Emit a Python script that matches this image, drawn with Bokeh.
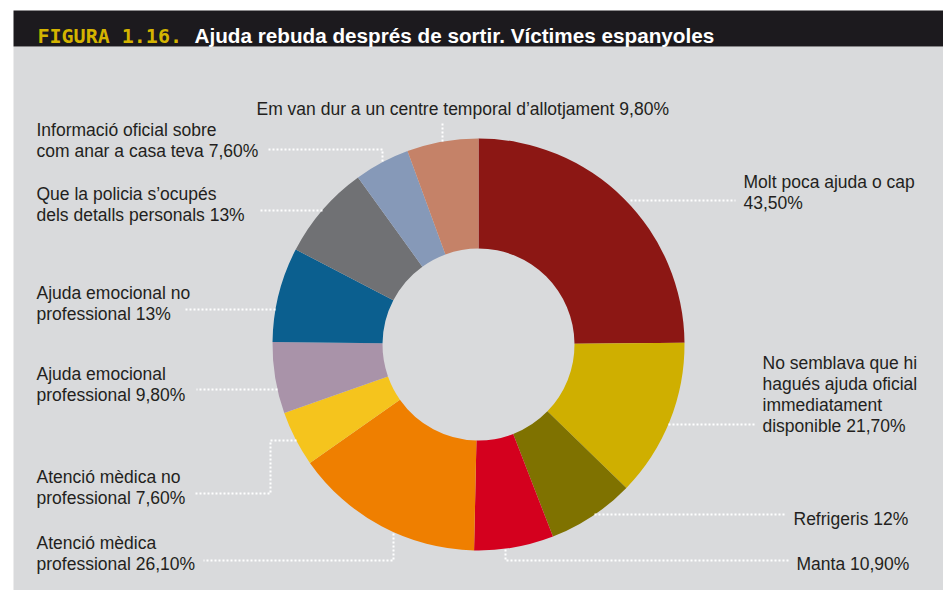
from bokeh.plotting import figure
from bokeh.models import ColumnDataSource, Range1d
from bokeh.core.properties import value
from bokeh.embed import file_html
from bokeh.resources import INLINE
import math

# ---- data ----
categories = [
    "Molt poca ajuda o cap",
    "No semblava que hi hagués ajuda oficial immediatament disponible",
    "Refrigeris",
    "Manta",
    "Atenció mèdica professional",
    "Atenció mèdica no professional",
    "Ajuda emocional professional",
    "Ajuda emocional no professional",
    "Que la policia s’ocupés dels detalls personals",
    "Informació oficial sobre com anar a casa teva",
    "Em van dur a un centre temporal d’allotjament",
]
values = [43.5, 21.7, 12.0, 10.9, 26.1, 7.6, 9.8, 13.0, 13.0, 7.6, 9.8]
label_texts = [
    "Molt poca ajuda o cap\n43,50%",
    "No semblava que hi\nhagués ajuda oficial\nimmediatament\ndisponible 21,70%",
    "Refrigeris 12%",
    "Manta 10,90%",
    "Atenció mèdica\nprofessional 26,10%",
    "Atenció mèdica no\nprofessional 7,60%",
    "Ajuda emocional\nprofessional 9,80%",
    "Ajuda emocional no\nprofessional 13%",
    "Que la policia s’ocupés\ndels detalls personals 13%",
    "Informació oficial sobre\ncom anar a casa teva 7,60%",
    "Em van dur a un centre temporal d’allotjament 9,80%",
]
colors = ["#8C1714", "#CFAF00", "#7F7200", "#D4001E", "#EF7F00", "#F5C41D",
          "#A993A9", "#0B5F8F", "#707174", "#8699B8", "#C58268"]
title_num = "FIGURA 1.16."
title_text = "Ajuda rebuda després de sortir. Víctimes espanyoles"

# ---- layout (reference pixel coordinates) ----
W, H = 943, 590
def fx(x): return x
def fy(y): return H - y

CX, CY = 478, 344
R_OUT, R_IN = 206, 96

# label anchor: (x, first baseline)
label_pos = [
    (743, 181), (762, 362), (793, 518), (796, 563), (36, 542), (36, 476),
    (36, 373), (36, 292), (36, 193), (36, 129), (256, 108),
]
LINE_H = 21
leaders = [
    [(630, 200), (735, 200)],
    [(668, 424), (754, 424)],
    [(594, 514), (785, 514)],
    [(505, 549), (505, 560), (788, 560)],
    [(393, 533), (393, 560), (203, 560)],
    [(296, 440), (270, 440), (270, 493), (195, 493)],
    [(277, 389), (196, 389)],
    [(275, 309), (183, 309)],
    [(322, 210), (258, 210)],
    [(382, 161), (382, 149), (268, 149)],
    [(442, 141), (442, 123)],
]

p = figure(width=W, height=H, x_range=Range1d(0, W), y_range=Range1d(0, H),
           output_backend="svg", toolbar_location=None, min_border=0)
p.axis.visible = False
p.grid.visible = False
p.outline_line_color = None
p.background_fill_color = "white"
p.border_fill_color = "white"

# panel and title bar
p.quad(left=[fx(13)], right=[W], bottom=[0], top=[fy(46)], color="#D9DADC", line_color=None)
p.quad(left=[fx(13)], right=[W], bottom=[fy(46)], top=[fy(10)], color="#1C1A1E", line_color=None)

p.text(x=[fx(37)], y=[fy(35)], text=[title_num], text_color="#D4B400",
       text_font=value("DejaVu Sans Mono"), text_font_style="bold",
       text_font_size="20px", text_baseline="alphabetic")
p.text(x=[fx(194)], y=[fy(35)], text=[title_text], text_color="white",
       text_font=value("Liberation Sans"), text_font_style="bold",
       text_font_size="20.7px", text_baseline="alphabetic")

# donut
total = sum(values)
starts, ends = [], []
cum = 0.0
for v in values:
    a0 = cum / total * 2 * math.pi
    cum += v
    a1 = cum / total * 2 * math.pi
    starts.append(math.pi / 2 - a1)
    ends.append(math.pi / 2 - a0)
src = ColumnDataSource(dict(start=starts, end=ends, color=colors, cat=categories, val=values))
p.annular_wedge(x=fx(CX), y=fy(CY), inner_radius=R_IN, outer_radius=R_OUT,
                start_angle="start", end_angle="end", color="color",
                line_color=None, source=src)

# leader lines
p.multi_line(xs=[[fx(x) for x, _ in L] for L in leaders],
             ys=[[fy(y) for _, y in L] for L in leaders],
             line_color="white", line_width=2, line_dash="2 2")

# labels
tx, ty, tt = [], [], []
for (x, y), t in zip(label_pos, label_texts):
    for i, line in enumerate(t.split("\n")):
        tx.append(fx(x)); ty.append(fy(y + i * LINE_H)); tt.append(line)
p.text(x=tx, y=ty, text=tt, text_color="#231F20",
       text_font=value("Liberation Sans"), text_font_size="17.5px",
       text_baseline="alphabetic", text_align="left")

open("out.html", "w").write(file_html(p, INLINE))
